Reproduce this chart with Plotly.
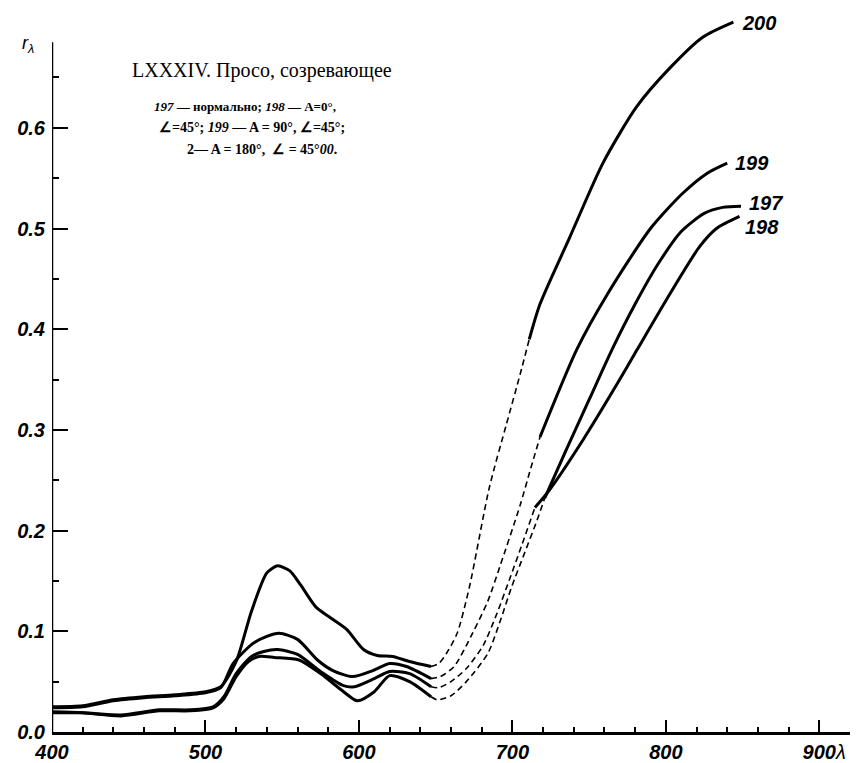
import plotly.graph_objects as go

# --- data (wavelength nm, reflectance r) ---
# curve 200
c200_x1 = [400, 420, 440, 460, 480, 500, 510, 520, 530, 540, 547, 555, 562, 572, 581, 592, 603, 612, 622, 633, 647]
c200_y1 = [0.025, 0.026, 0.032, 0.035, 0.037, 0.040, 0.045, 0.070, 0.120, 0.158, 0.165, 0.160, 0.146, 0.124, 0.114, 0.102, 0.082, 0.076, 0.075, 0.070, 0.065]
c200_xd = [647, 652, 657, 664, 672, 685, 696, 705, 711]
c200_yd = [0.065, 0.068, 0.078, 0.098, 0.144, 0.243, 0.305, 0.355, 0.390]
c200_x2 = [711, 718, 737, 759, 781, 803, 824, 844]
c200_y2 = [0.390, 0.425, 0.490, 0.565, 0.621, 0.660, 0.690, 0.705]

# curve 199
c199_x1 = [400, 420, 440, 460, 480, 500, 510, 518, 531, 540, 548, 560, 573, 583, 596, 609, 620, 631, 647]
c199_y1 = [0.024, 0.025, 0.031, 0.034, 0.036, 0.039, 0.044, 0.068, 0.088, 0.095, 0.098, 0.092, 0.0715, 0.061, 0.055, 0.061, 0.068, 0.065, 0.053]
c199_xd = [647, 653, 662, 674, 684, 692, 705, 712, 718]
c199_yd = [0.053, 0.055, 0.065, 0.098, 0.130, 0.165, 0.225, 0.262, 0.293]
c199_x2 = [718, 742, 762, 790, 811, 827, 840]
c199_y2 = [0.293, 0.380, 0.435, 0.500, 0.535, 0.555, 0.565]

# curve 198
c198_x1 = [400, 420, 445, 470, 490, 505, 512, 520, 530, 538, 547, 560, 575, 590, 597, 610, 620, 633, 647]
c198_y1 = [0.019, 0.019, 0.017, 0.022, 0.022, 0.025, 0.035, 0.058, 0.075, 0.080, 0.082, 0.077, 0.060, 0.046, 0.045, 0.053, 0.060, 0.058, 0.045]
c198_xd = [647, 652, 660, 670, 681, 690, 698, 706, 714.7]
c198_yd = [0.045, 0.044, 0.050, 0.063, 0.086, 0.118, 0.151, 0.185, 0.223]
c198_x2 = [714.7, 724, 746, 768, 781, 803, 822, 833, 848]
c198_y2 = [0.223, 0.240, 0.290, 0.345, 0.379, 0.436, 0.482, 0.500, 0.512]

# curve 197
c197_x1 = [400, 420, 445, 470, 490, 505, 512, 520, 528, 535, 545, 561, 575, 590, 599, 610, 620, 633, 647]
c197_y1 = [0.020, 0.019, 0.016, 0.021, 0.021, 0.024, 0.033, 0.055, 0.070, 0.075, 0.074, 0.0715, 0.058, 0.040, 0.031, 0.040, 0.056, 0.050, 0.035]
c197_xd = [647, 651, 660, 670, 684, 692, 699.5, 708, 716, 721]
c197_yd = [0.035, 0.032, 0.036, 0.050, 0.078, 0.110, 0.144, 0.178, 0.210, 0.232]
c197_x2 = [721, 735, 750, 765, 780, 795, 810, 825, 837, 849]
c197_y2 = [0.232, 0.280, 0.330, 0.380, 0.425, 0.465, 0.497, 0.515, 0.521, 0.522]

curves = {
    "200": (c200_x1, c200_y1, c200_xd, c200_yd, c200_x2, c200_y2),
    "199": (c199_x1, c199_y1, c199_xd, c199_yd, c199_x2, c199_y2),
    "198": (c198_x1, c198_y1, c198_xd, c198_yd, c198_x2, c198_y2),
    "197": (c197_x1, c197_y1, c197_xd, c197_yd, c197_x2, c197_y2),
}

# curve numbers start just right of each curve end
label_x = {"200": 848, "199": 844, "197": 853, "198": 850}
label_y = {"200": 0.704, "199": 0.565, "197": 0.525, "198": 0.502}

x_ticks = [400, 500, 600, 700, 800, 900]
y_ticks = [0.0, 0.1, 0.2, 0.3, 0.4, 0.5, 0.6]
y_minor = [0.05, 0.15, 0.25, 0.35, 0.45, 0.55, 0.65]
y_axis_top = 0.685

fig = go.Figure()
for name, (x1, y1, xd, yd, x2, y2) in curves.items():
    solid = dict(color="black", width=3, shape="spline", smoothing=0.7)
    fig.add_trace(go.Scatter(x=x1, y=y1, mode="lines", line=solid, showlegend=False))
    fig.add_trace(go.Scatter(x=xd, y=yd, mode="lines", showlegend=False,
                             line=dict(color="black", width=1.6, dash="6px,4px", shape="spline", smoothing=0.7)))
    fig.add_trace(go.Scatter(x=x2, y=y2, mode="lines", line=solid, showlegend=False))
    fig.add_annotation(x=label_x[name], y=label_y[name], text=name, showarrow=False,
                       xanchor="left", yanchor="middle",
                       font=dict(family="Liberation Sans", size=20, color="black", style="italic", weight="bold"))

serif = "Liberation Serif"
fig.add_annotation(x=537, y=0.657, text="LXXXIV. Просо, созревающее", showarrow=False, yanchor="middle",
                   font=dict(family=serif, size=20, color="black"))
fig.add_annotation(x=526, y=0.621, text="<i>197</i> — нормально; <i>198</i> — A=0°,", showarrow=False,
                   yanchor="middle", font=dict(family=serif, size=13, color="black", weight="bold"))
fig.add_annotation(x=530, y=0.600, text="∠=45°; <i>199</i> — A = 90°, ∠=45°;", showarrow=False,
                   yanchor="middle", font=dict(family=serif, size=14, color="black", weight="bold"))
fig.add_annotation(x=537, y=0.578, text="2— A = 180°,  ∠ = 45°<i>00</i>.", showarrow=False,
                   yanchor="middle", font=dict(family=serif, size=14, color="black", weight="bold"))

# axis letters
fig.add_annotation(xref="paper", yref="paper", x=-0.04, y=0.949, text="r<sub>λ</sub>", showarrow=False,
                   yanchor="middle", font=dict(family="Liberation Sans", size=18, color="black", style="italic"))
fig.add_annotation(xref="paper", yref="paper", x=0.997, y=-0.028, text="λ", showarrow=False,
                   yanchor="middle", font=dict(family="Liberation Sans", size=20, color="black", style="italic"))

# y axis line stops below the top, like the original drawing
fig.add_shape(type="line", xref="x", yref="y", x0=400, x1=400, y0=0, y1=y_axis_top,
              line=dict(color="black", width=2.5))

tick_font = dict(family="Liberation Sans", size=20, color="black", style="italic", weight="bold")
fig.update_xaxes(range=[400, 920], tickvals=x_ticks, ticktext=[str(v) for v in x_ticks], automargin=False,
                 showline=True, linecolor="black", linewidth=2.5, showgrid=False, zeroline=False,
                 ticks="inside", ticklen=12, tickwidth=2, tickcolor="black", tickfont=tick_font,
                 minor=dict(dtick=20, ticks="inside", ticklen=5, tickwidth=1.5, tickcolor="black", showgrid=False))
fig.update_yaxes(range=[0, 0.719], tickvals=y_ticks, ticktext=[f"{v:.1f}" for v in y_ticks], automargin=False,
                 showline=False, showgrid=False, zeroline=False, ticklabelstandoff=6,
                 ticks="inside", ticklen=16, tickwidth=2, tickcolor="black", tickfont=tick_font,
                 minor=dict(tickvals=y_minor, ticks="inside", ticklen=7, tickwidth=1.5, tickcolor="black", showgrid=False))

# the page body adds an 8px offset, so the margins are shifted to compensate
fig.update_layout(width=867, height=763, plot_bgcolor="white", paper_bgcolor="white",
                  margin=dict(l=44, r=25, t=0, b=39))

fig.write_html("out.html")
